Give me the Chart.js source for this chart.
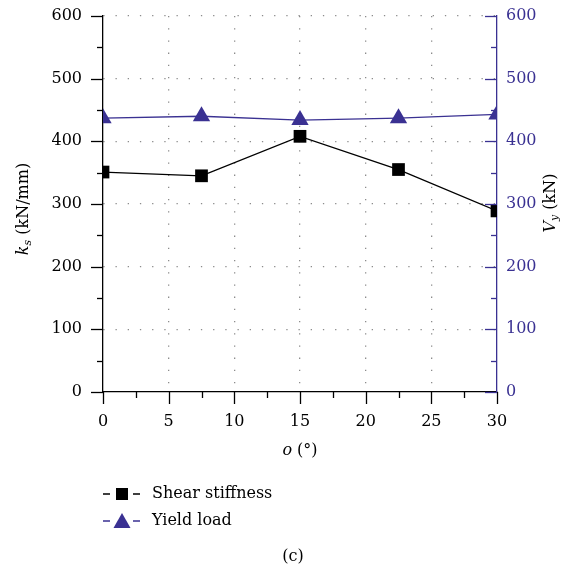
<!DOCTYPE html>
<html><head><meta charset="utf-8">
<script src="https://cdn.jsdelivr.net/npm/chart.js@4/dist/chart.umd.min.js"></script>
<style>html,body{margin:0;padding:0;background:#fff;overflow:hidden}#wrap{position:relative;width:566px;height:573px}</style>
</head><body><div id="wrap"><canvas id="c" width="566" height="573"></canvas></div>
<script>
const angles = [0, 7.5, 15, 22.5, 30];
const shearStiffness = [351, 345, 408, 355, 289];
const yieldLoad = [437, 440, 434, 437, 443];
const xTickValues = [0, 5, 10, 15, 20, 25, 30];
const yTickValues = [0, 100, 200, 300, 400, 500, 600];
const seriesNames = ['Shear stiffness', 'Yield load'];
const caption = '(c)';

const PURPLE = '#3a3192';
const FONT = '"DejaVu Serif", "Liberation Serif", serif';
const FS = 16;

const tickPlugin = {
  id: 'ticksAndTitles',
  afterDraw(chart) {
    const ctx = chart.ctx;
    const a = chart.chartArea;
    const sx = chart.scales.x, sy = chart.scales.y, sy1 = chart.scales.y1;
    ctx.save();
    ctx.lineWidth = 1.3;
    ctx.strokeStyle = '#000';
    for (let v = 0; v <= 600; v += 50) {
      const p = Math.round(sy.getPixelForValue(v)) + 0.5;
      const len = v % 100 === 0 ? 12 : 6;
      ctx.beginPath(); ctx.moveTo(a.left - len, p); ctx.lineTo(a.left, p); ctx.stroke();
    }
    for (let v = 0; v <= 30; v += 2.5) {
      const p = Math.round(sx.getPixelForValue(v)) + 0.5;
      const len = v % 5 === 0 ? 12 : 6;
      ctx.beginPath(); ctx.moveTo(p, a.bottom); ctx.lineTo(p, a.bottom + len); ctx.stroke();
    }
    ctx.strokeStyle = PURPLE;
    for (let v = 0; v <= 600; v += 50) {
      const p = Math.round(sy1.getPixelForValue(v)) + 0.5;
      const len = v % 100 === 0 ? 12 : 6;
      ctx.beginPath(); ctx.moveTo(a.right - len, p); ctx.lineTo(a.right, p); ctx.stroke();
    }
    const drawRuns = (runs, x, y, rot, color) => {
      ctx.save();
      ctx.translate(x, y); ctx.rotate(rot);
      ctx.fillStyle = color; ctx.textBaseline = 'middle';
      let w = 0;
      runs.forEach(r => { ctx.font = r.f; w += ctx.measureText(r.t).width; });
      let cx = -w / 2;
      runs.forEach(r => { ctx.font = r.f; ctx.textAlign = 'left'; ctx.fillText(r.t, cx, r.dy || 0); cx += ctx.measureText(r.t).width; });
      ctx.restore();
    };
    drawRuns([
      {t: 'k', f: 'italic ' + FS + 'px ' + FONT},
      {t: 's', f: 'italic 11px ' + FONT, dy: 4},
      {t: ' (kN/mm)', f: FS + 'px ' + FONT}
    ], 24, 209, -Math.PI / 2, '#000');
    drawRuns([
      {t: 'V', f: 'italic ' + FS + 'px ' + FONT},
      {t: 'y', f: 'italic 11px ' + FONT, dy: 4},
      {t: ' (kN)', f: FS + 'px ' + FONT}
    ], 551, 203, -Math.PI / 2, '#000');
    drawRuns([
      {t: 'o', f: 'italic ' + FS + 'px ' + FONT},
      {t: ' (°)', f: FS + 'px ' + FONT}
    ], 300, 451, 0, '#000');

    const items = [
      {name: seriesNames[0], color: '#000', style: 'rect', y: 494},
      {name: seriesNames[1], color: PURPLE, style: 'triangle', y: 521}
    ];
    items.forEach(it => {
      ctx.strokeStyle = it.color; ctx.lineWidth = 1.3;
      ctx.beginPath(); ctx.moveTo(103, it.y); ctx.lineTo(110, it.y); ctx.moveTo(133, it.y); ctx.lineTo(140, it.y); ctx.stroke();
      ctx.fillStyle = it.color;
      if (it.style === 'rect') {
        ctx.fillRect(116, it.y - 6, 12, 12);
      } else {
        ctx.beginPath(); ctx.moveTo(122, it.y - 8); ctx.lineTo(130.5, it.y + 7); ctx.lineTo(113.5, it.y + 7); ctx.closePath(); ctx.fill();
      }
      ctx.fillStyle = '#000'; ctx.font = FS + 'px ' + FONT; ctx.textAlign = 'left'; ctx.textBaseline = 'middle';
      ctx.fillText(it.name, 152, it.y);
    });
    ctx.font = FS + 'px ' + FONT; ctx.textAlign = 'center'; ctx.fillStyle = '#000';
    ctx.fillText(caption, 293, 557);
    ctx.restore();
  }
};

const gridColor = (ctx, edges) => (edges.includes(ctx.tick && ctx.tick.value) ? 'rgba(0,0,0,0)' : '#8c8c8c');
const zeroPadV = s => { s.paddingTop = 0; s.paddingBottom = 0; };

new Chart(document.getElementById('c'), {
  type: 'line',
  data: {
    datasets: [
      {
        label: seriesNames[0],
        data: angles.map((a, i) => ({x: a, y: shearStiffness[i]})),
        yAxisID: 'y',
        borderColor: '#000', backgroundColor: '#000', borderWidth: 1.3,
        pointStyle: 'rect', pointRadius: 9, pointBorderWidth: 0, pointHoverRadius: 9,
        clip: 0, tension: 0
      },
      {
        label: seriesNames[1],
        data: angles.map((a, i) => ({x: a, y: yieldLoad[i]})),
        yAxisID: 'y1',
        borderColor: PURPLE, backgroundColor: PURPLE, borderWidth: 1.3,
        pointStyle: 'triangle', pointRadius: 10, pointBorderWidth: 0, pointHoverRadius: 10,
        clip: 0, tension: 0
      }
    ]
  },
  options: {
    responsive: false, animation: false, devicePixelRatio: 1,
    layout: {padding: {top: 16, left: 0, right: 0, bottom: 0}, autoPadding: false},
    plugins: {legend: {display: false}, tooltip: {enabled: false}},
    scales: {
      x: {
        type: 'linear', min: 0, max: 30,
        afterFit: s => { s.height = 181; s.paddingLeft = 0; s.paddingRight = 0; },
        afterBuildTicks: s => { s.ticks = xTickValues.map(v => ({value: v})); },
        ticks: {color: '#000', font: {family: FONT, size: FS}, padding: 20, maxRotation: 0, autoSkip: false},
        grid: {color: c => gridColor(c, [0, 30]), lineWidth: 1.3, drawTicks: false},
        border: {display: true, color: '#000', width: 1.3, dash: [1.3, 10.9]}
      },
      y: {
        type: 'linear', position: 'left', min: 0, max: 600,
        afterFit: s => { s.width = 103; zeroPadV(s); },
        afterBuildTicks: s => { s.ticks = yTickValues.map(v => ({value: v})); },
        ticks: {color: '#000', font: {family: FONT, size: FS}, padding: 21},
        grid: {color: c => gridColor(c, [0]), lineWidth: 1.3, drawTicks: false},
        border: {display: true, color: '#000', width: 1.3, dash: [1.3, 10.9]}
      },
      y1: {
        type: 'linear', position: 'right', min: 0, max: 600,
        afterFit: s => { s.width = 69; zeroPadV(s); },
        afterBuildTicks: s => { s.ticks = yTickValues.map(v => ({value: v})); },
        ticks: {color: PURPLE, font: {family: FONT, size: FS}, padding: 9},
        grid: {drawOnChartArea: false, drawTicks: false},
        border: {display: true, color: PURPLE, width: 1.3}
      }
    }
  },
  plugins: [tickPlugin]
});
</script>
</body></html>
